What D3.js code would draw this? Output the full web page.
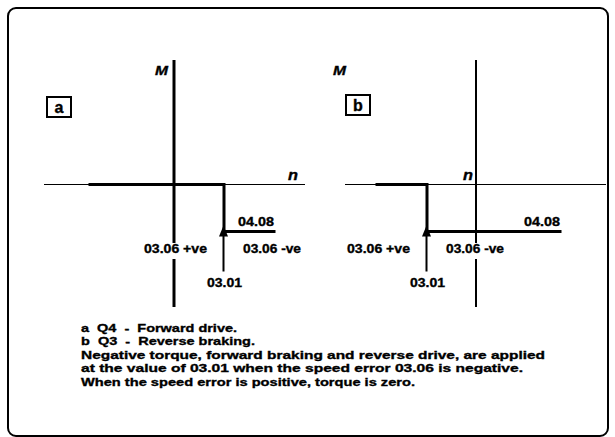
<!DOCTYPE html>
<html><head><meta charset="utf-8">
<script src="https://cdn.jsdelivr.net/npm/d3@7"></script>
<style>
html,body{margin:0;padding:0;background:#fff;}
svg{display:block;}
text{font-family:"Liberation Sans",Arial,sans-serif;font-weight:bold;fill:#000;stroke:#000;stroke-width:0.35px;}
</style></head>
<body>
<svg id="c" width="615" height="437"></svg>
<script>
// ---- data ----
const panelIds = ["a", "b"];
const speedDomains = [[-1.30, 1.31], [-1.31, 1.30]];   // n axis domain per panel
const torqueDomain = [-1.225, 1.245];                 // M axis domain
const speedRef = [0.50, -0.49];                        // 03.01 speed reference
const torqueLimit = -0.47;                             // 04.08 torque limit
const zeroTorqueStart = [-0.84, -0.99];                // start of zero-torque segment
const limitEnd = [1.00, 0.84];                         // end of torque-limit segment
const arrowFrom = -0.87, arrowTo = -0.41;
const axisGap = [-0.745, -0.585];
const labelLimit = "04.08", labelRef = "03.01", labelPos = "03.06 +ve", labelNeg = "03.06 -ve";
const notes = [
  "a  Q4  -  Forward drive.",
  "b  Q3  -  Reverse braking.",
  "Negative torque, forward braking and reverse drive, are applied",
  "at the value of 03.01 when the speed error 03.06 is negative.",
  "When the speed error is positive, torque is zero."
];

const svg = d3.select("#c");
svg.append("rect").attr("x", 8).attr("y", 8).attr("width", 600).attr("height", 428)
  .attr("rx", 8).attr("fill", "none").attr("stroke", "#000").attr("stroke-width", 2);

const y = d3.scaleLinear().domain(torqueDomain).range([307, 60]);
const ranges = [[44, 305], [345, 606]];
const vAxisWidth = [3, 2];
const mX = [155, 333];
const nX = [288, 463];
const boxes = [{x: 47, y: 97}, {x: 346, y: 95}];

panelIds.forEach((id, i) => {
  const x = d3.scaleLinear().domain(speedDomains[i]).range(ranges[i]);
  const g = svg.append("g");
  g.append("line").attr("x1", x(speedDomains[i][0])).attr("x2", x(speedDomains[i][1]))
    .attr("y1", y(0)).attr("y2", y(0)).attr("stroke", "#000").attr("stroke-width", 1.2);
  [[torqueDomain[1], axisGap[1]], [axisGap[0], torqueDomain[0]]].forEach(s => {
    g.append("line").attr("x1", x(0)).attr("x2", x(0)).attr("y1", y(s[0])).attr("y2", y(s[1]))
      .attr("stroke", "#000").attr("stroke-width", vAxisWidth[i]);
  });
  const pts = [[zeroTorqueStart[i], 0], [speedRef[i], 0], [speedRef[i], torqueLimit], [limitEnd[i], torqueLimit]];
  g.append("path").attr("d", d3.line().x(d => x(d[0])).y(d => y(d[1]))(pts))
    .attr("fill", "none").attr("stroke", "#000").attr("stroke-width", 3).attr("stroke-linejoin", "miter").attr("stroke-linecap", "square");
  const ax = x(speedRef[i]) - 0.5;
  g.append("line").attr("x1", ax).attr("x2", ax).attr("y1", y(arrowFrom)).attr("y2", y(arrowTo) + 8)
    .attr("stroke", "#000").attr("stroke-width", 2);
  g.append("path").attr("d", `M${ax},${y(arrowTo)} L${ax - 4.5},${y(arrowTo) + 11} L${ax + 4.5},${y(arrowTo) + 11} Z`).attr("fill", "#000");
  const fs = "12.5px";
  g.append("text").attr("x", x(limitEnd[i])).attr("y", y(torqueLimit) - 6).attr("text-anchor", "end")
    .style("font-size", fs).attr("textLength", 36).attr("lengthAdjust", "spacingAndGlyphs").text(labelLimit);
  g.append("text").attr("x", x(speedRef[i]) + 19).attr("y", 253)
    .style("font-size", fs).attr("textLength", 58).attr("lengthAdjust", "spacingAndGlyphs").text(labelNeg);
  g.append("text").attr("x", x(speedRef[i]) - 17 - 63).attr("y", 253)
    .style("font-size", fs).attr("textLength", 63).attr("lengthAdjust", "spacingAndGlyphs").text(labelPos);
  g.append("text").attr("x", x(speedRef[i]) - 17).attr("y", 287)
    .style("font-size", fs).attr("textLength", 35).attr("lengthAdjust", "spacingAndGlyphs").text(labelRef);
  g.append("text").attr("x", mX[i]).attr("y", 75).style("font-size", "13px").style("font-style", "italic")
    .attr("textLength", 13).attr("lengthAdjust", "spacingAndGlyphs").text("M");
  g.append("text").attr("x", nX[i]).attr("y", 180).style("font-size", "14px").style("font-style", "italic")
    .attr("textLength", 10).attr("lengthAdjust", "spacingAndGlyphs").text("n");
  g.append("rect").attr("x", boxes[i].x).attr("y", boxes[i].y).attr("width", 24).attr("height", 20)
    .attr("fill", "#fff").attr("stroke", "#000").attr("stroke-width", 2);
  g.append("text").attr("x", boxes[i].x + 12).attr("y", boxes[i].y + 15.5).attr("text-anchor", "middle")
    .style("font-size", "16px").text(id);
});

// notes
const noteWidths = [156, 174, 464, 442, 334];
svg.append("g").selectAll("text").data(notes).join("text")
  .attr("x", 81).attr("y", (d, i) => 332 + i * 13.4)
  .style("font-size", "11.5px").attr("xml:space", "preserve").style("white-space", "pre")
  .attr("textLength", (d, i) => noteWidths[i]).attr("lengthAdjust", "spacingAndGlyphs")
  .text(d => d);
</script>
</body></html>
